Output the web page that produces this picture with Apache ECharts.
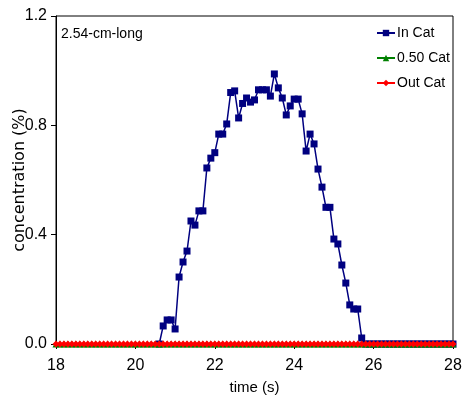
<!DOCTYPE html>
<html>
<head>
    <meta charset="utf-8" />
    <style>
        html, body { margin: 0; padding: 0; background: #fff; }
        #chart { width: 462px; height: 401px; }
    </style>
    <script src="https://cdn.jsdelivr.net/npm/echarts@6/dist/echarts.min.js"></script>
</head>
<body>
    <div id="chart"></div>
    <script type="text/javascript">
        // sampling: one reading every 0.1 s
        var timeStart = 18.0;
        var timeStep = 0.1;

        // In Cat readings start at 20.6 s
        var inCatStart = 20.6;
        var inCat = [
            0, 0.066, 0.088, 0.088, 0.055, 0.245, 0.30, 0.34, 0.45, 0.435,
            0.487, 0.487, 0.644, 0.68, 0.70, 0.768, 0.768, 0.805, 0.92, 0.926,
            0.827, 0.88, 0.90, 0.885, 0.893, 0.93, 0.93, 0.93, 0.907, 0.988,
            0.937, 0.90, 0.838, 0.871, 0.896, 0.896, 0.842, 0.706, 0.768, 0.732,
            0.64, 0.574, 0.50, 0.50, 0.384, 0.366, 0.289, 0.223, 0.143, 0.128,
            0.128, 0.022, 0, 0, 0, 0, 0, 0, 0, 0,
            0, 0, 0, 0, 0, 0, 0, 0, 0, 0,
            0, 0, 0, 0, 0
        ];

        // 0.50 Cat and Out Cat stay at zero over the whole run (18 - 28 s)
        var halfCat = [
            0, 0, 0, 0, 0, 0, 0, 0, 0, 0, 0, 0, 0, 0, 0, 0, 0, 0, 0, 0,
            0, 0, 0, 0, 0, 0, 0, 0, 0, 0, 0, 0, 0, 0, 0, 0, 0, 0, 0, 0,
            0, 0, 0, 0, 0, 0, 0, 0, 0, 0, 0, 0, 0, 0, 0, 0, 0, 0, 0, 0,
            0, 0, 0, 0, 0, 0, 0, 0, 0, 0, 0, 0, 0, 0, 0, 0, 0, 0, 0, 0,
            0, 0, 0, 0, 0, 0, 0, 0, 0, 0, 0, 0, 0, 0, 0, 0, 0, 0, 0, 0,
            0
        ];
        var outCat = [
            0, 0, 0, 0, 0, 0, 0, 0, 0, 0, 0, 0, 0, 0, 0, 0, 0, 0, 0, 0,
            0, 0, 0, 0, 0, 0, 0, 0, 0, 0, 0, 0, 0, 0, 0, 0, 0, 0, 0, 0,
            0, 0, 0, 0, 0, 0, 0, 0, 0, 0, 0, 0, 0, 0, 0, 0, 0, 0, 0, 0,
            0, 0, 0, 0, 0, 0, 0, 0, 0, 0, 0, 0, 0, 0, 0, 0, 0, 0, 0, 0,
            0, 0, 0, 0, 0, 0, 0, 0, 0, 0, 0, 0, 0, 0, 0, 0, 0, 0, 0, 0,
            0
        ];

        var seriesNames = ['In Cat', '0.50 Cat', 'Out Cat'];
        var xTicks = [18, 20, 22, 24, 26, 28];
        var yTicks = [0.0, 0.4, 0.8, 1.2];

        function pairs(start, values) {
            return values.map(function (v, i) {
                return [+(start + i * timeStep).toFixed(1), v];
            });
        }

        var font = "'Liberation Sans', Arial, sans-serif";

        var chart = echarts.init(document.getElementById('chart'), null, { renderer: 'canvas' });
        var option = {
            backgroundColor: '#fff',
            animation: false,
            title: {
                text: '2.54-cm-long',
                left: 61,
                top: 27,
                padding: 0,
                textStyle: { fontFamily: font, fontSize: 14, fontWeight: 'normal', color: '#000' }
            },
            legend: {
                data: seriesNames,
                orient: 'vertical',
                left: 376,
                top: 26,
                padding: 0,
                itemWidth: 18,
                itemHeight: 8,
                itemGap: 11,
                textStyle: { fontFamily: font, fontSize: 14, color: '#000', padding: [0, 0, 0, -3] }
            },
            grid: {
                left: 56,
                right: 9,
                top: 16,
                bottom: 57,
                show: true,
                borderColor: '#000',
                borderWidth: 1,
                outerBoundsMode: 'none',
                containLabel: false
            },
            xAxis: {
                type: 'value',
                min: xTicks[0],
                max: xTicks[xTicks.length - 1],
                interval: 2,
                name: 'time (s)',
                nameLocation: 'middle',
                nameGap: 36,
                nameMoveOverlap: false,
                nameTextStyle: { fontFamily: font, fontSize: 15, color: '#000' },
                axisLine: { lineStyle: { color: '#000', width: 1 } },
                axisTick: { inside: false, length: 5, lineStyle: { color: '#000' } },
                axisLabel: { fontFamily: font, fontSize: 16, color: '#000', margin: 14 },
                splitLine: { show: false }
            },
            yAxis: {
                type: 'value',
                min: yTicks[0],
                max: yTicks[yTicks.length - 1],
                interval: 0.4,
                name: 'concentration (%)',
                nameLocation: 'middle',
                nameGap: 28,
                nameMoveOverlap: false,
                nameTextStyle: { fontFamily: "'DejaVu Sans', sans-serif", fontSize: 16, color: '#000' },
                axisLine: { lineStyle: { color: '#000', width: 1 } },
                axisTick: { inside: false, length: 5, lineStyle: { color: '#000' } },
                axisLabel: {
                    fontFamily: font, fontSize: 16, color: '#000', margin: 9,
                    formatter: function (v) { return v.toFixed(1); }
                },
                splitLine: { show: false }
            },
            series: [
                {
                    name: seriesNames[0],
                    type: 'line',
                    data: pairs(inCatStart, inCat),
                    symbol: 'rect',
                    symbolSize: 7,
                    color: '#000080',
                    lineStyle: { color: '#000080', width: 1.5 },
                    itemStyle: { color: '#000080' },
                    z: 2
                },
                {
                    name: seriesNames[1],
                    type: 'line',
                    data: pairs(timeStart, halfCat),
                    symbol: 'triangle',
                    symbolSize: 7,
                    color: '#008000',
                    lineStyle: { color: '#008000', width: 1.5 },
                    itemStyle: { color: '#008000' },
                    z: 3
                },
                {
                    name: seriesNames[2],
                    type: 'line',
                    data: pairs(timeStart, outCat),
                    symbol: 'diamond',
                    symbolSize: 7,
                    color: '#ff0000',
                    lineStyle: { color: '#ff0000', width: 1.5 },
                    itemStyle: { color: '#ff0000' },
                    z: 4
                }
            ]
        };
        chart.setOption(option);
    </script>
</body>
</html>
